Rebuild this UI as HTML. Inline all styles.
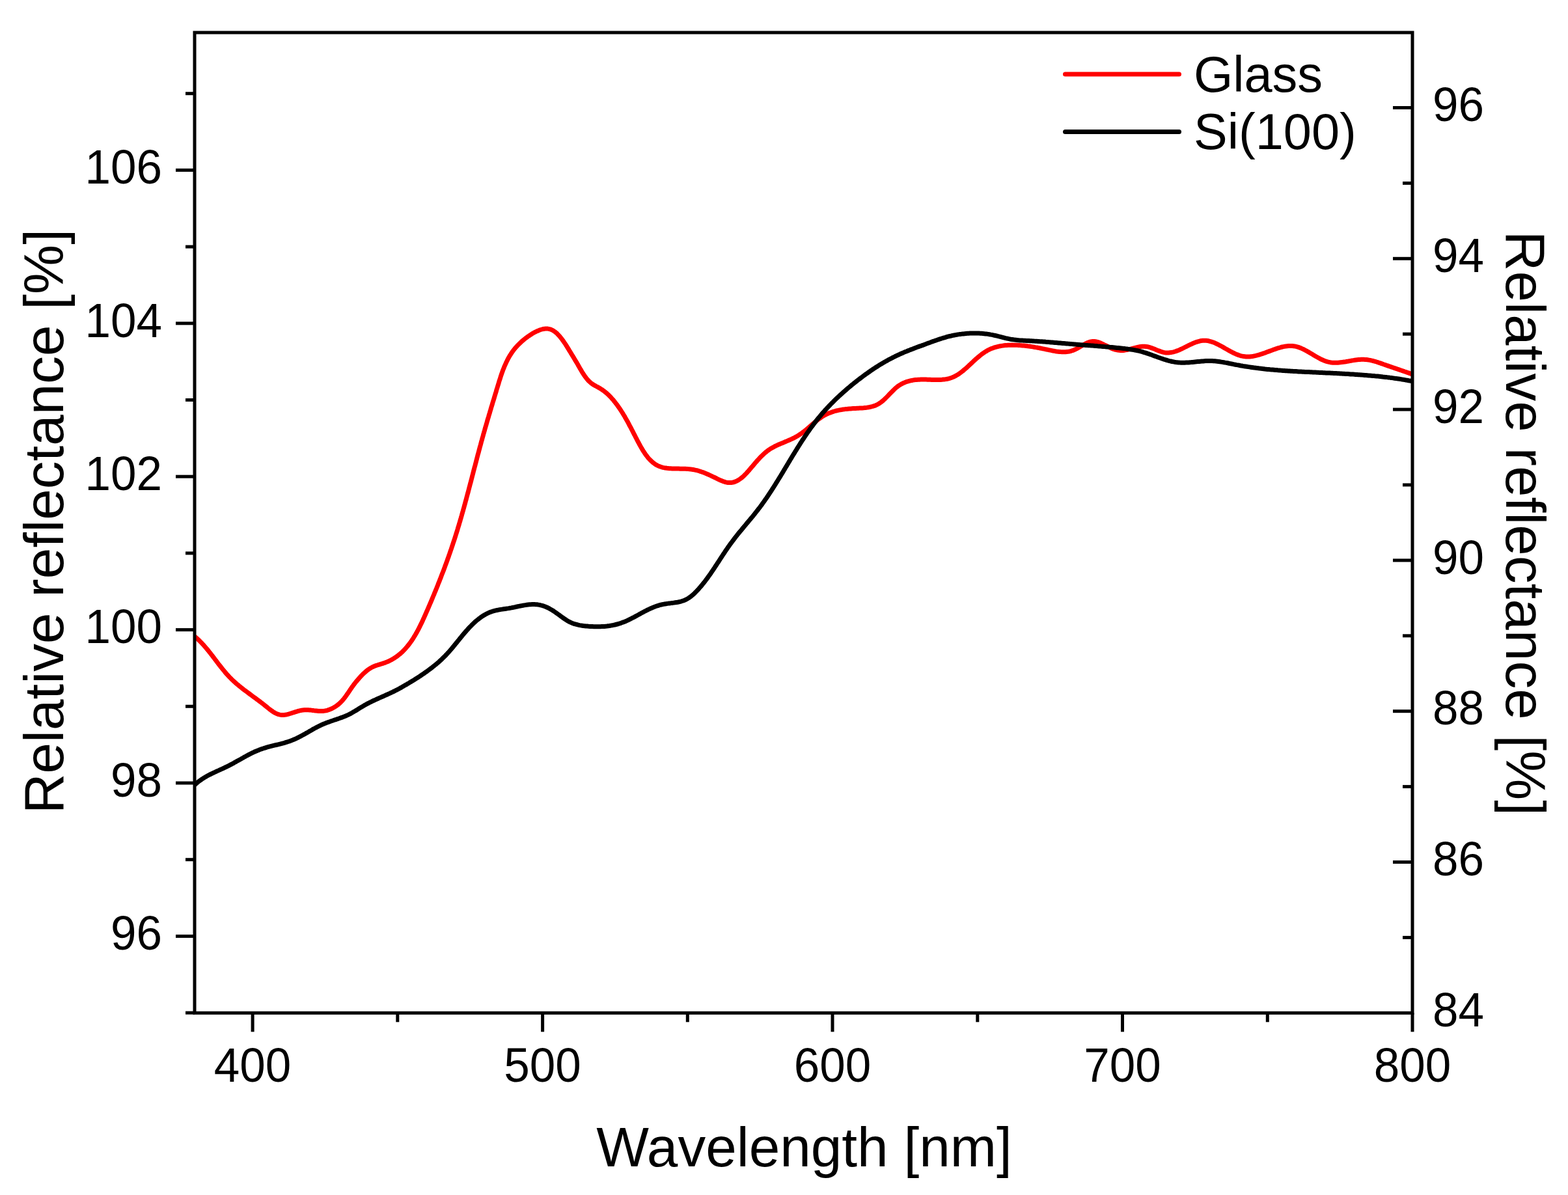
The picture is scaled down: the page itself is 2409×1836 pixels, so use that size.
<!DOCTYPE html>
<html><head><meta charset="utf-8"><title>Relative reflectance</title>
<style>
html,body{margin:0;padding:0;background:#fff;}
svg{display:block;}
text{font-family:"Liberation Sans",Arial,sans-serif;fill:#000;}
</style></head><body>
<svg width="2409" height="1836" viewBox="0 0 2409 1836">
<rect width="2409" height="1836" fill="#fff"/>
<defs><clipPath id="pc"><rect x="299.0" y="50.0" width="1871.0" height="1506.3"/></clipPath></defs>
<g clip-path="url(#pc)" fill="none" stroke-linejoin="round" stroke-linecap="round" stroke-width="7.0">
<path stroke="#ff0000" d="M299.1,977.8L300.6,979.1L302.1,980.4L303.6,981.7L305.0,983.1L306.4,984.4L307.8,985.9L309.2,987.3L310.6,988.7L311.9,990.2L313.3,991.7L314.6,993.2L315.9,994.7L317.2,996.2L318.5,997.8L319.7,999.3L321.0,1000.9L322.2,1002.5L323.5,1004.0L324.7,1005.6L326.0,1007.2L327.2,1008.8L328.4,1010.4L329.6,1012.0L330.8,1013.6L332.1,1015.2L333.3,1016.9L334.5,1018.5L335.7,1020.1L337.0,1021.7L338.2,1023.2L339.4,1024.8L340.7,1026.4L341.9,1028.0L343.2,1029.5L344.5,1031.0L345.7,1032.6L347.0,1034.1L348.3,1035.6L349.7,1037.1L351.0,1038.5L352.3,1040.0L353.7,1041.4L355.1,1042.8L356.5,1044.2L357.9,1045.5L359.4,1046.9L360.8,1048.2L362.3,1049.5L363.8,1050.8L365.3,1052.1L366.8,1053.3L368.3,1054.6L369.8,1055.8L371.4,1057.0L372.9,1058.2L374.5,1059.5L376.1,1060.7L377.7,1061.8L379.3,1063.0L380.9,1064.2L382.5,1065.4L384.1,1066.6L385.7,1067.8L387.3,1069.0L388.9,1070.2L390.5,1071.4L392.2,1072.5L393.8,1073.7L395.4,1075.0L397.1,1076.2L398.7,1077.4L400.3,1078.6L401.9,1079.9L403.6,1081.1L405.2,1082.4L406.8,1083.7L408.4,1085.0L410.0,1086.3L411.6,1087.6L413.2,1088.9L414.8,1090.2L416.5,1091.4L418.1,1092.5L419.7,1093.6L421.4,1094.7L423.1,1095.6L424.8,1096.4L426.5,1097.1L428.2,1097.7L430.0,1098.1L431.8,1098.4L433.6,1098.5L435.5,1098.5L437.4,1098.3L439.4,1098.0L441.3,1097.6L443.3,1097.1L445.3,1096.5L447.3,1095.9L449.3,1095.2L451.4,1094.6L453.4,1093.9L455.5,1093.3L457.5,1092.7L459.6,1092.1L461.6,1091.6L463.7,1091.2L465.7,1090.9L467.7,1090.7L469.7,1090.7L471.7,1090.7L473.7,1090.8L475.7,1090.9L477.7,1091.1L479.7,1091.4L481.6,1091.6L483.6,1091.9L485.5,1092.1L487.5,1092.3L489.4,1092.5L491.3,1092.6L493.3,1092.6L495.2,1092.6L497.1,1092.4L499.0,1092.1L500.9,1091.8L502.8,1091.3L504.7,1090.7L506.5,1090.1L508.4,1089.3L510.2,1088.5L512.0,1087.5L513.7,1086.5L515.4,1085.5L517.1,1084.3L518.7,1083.1L520.3,1081.9L521.8,1080.5L523.3,1079.2L524.7,1077.7L526.0,1076.3L527.3,1074.7L528.6,1073.2L529.8,1071.6L531.0,1070.0L532.2,1068.4L533.3,1066.7L534.5,1065.1L535.6,1063.4L536.7,1061.8L537.8,1060.1L538.9,1058.5L540.0,1056.8L541.2,1055.2L542.4,1053.6L543.5,1052.0L544.7,1050.5L545.9,1048.9L547.1,1047.4L548.4,1045.9L549.6,1044.5L550.8,1043.1L552.0,1041.7L553.2,1040.4L554.4,1039.0L555.6,1037.8L556.8,1036.5L558.0,1035.3L559.3,1034.2L560.5,1033.1L561.7,1032.0L562.9,1031.0L564.2,1029.9L565.5,1029.0L566.8,1028.0L568.1,1027.2L569.6,1026.3L571.0,1025.5L572.5,1024.7L574.1,1024.0L575.8,1023.3L577.6,1022.6L579.5,1022.0L581.4,1021.4L583.3,1020.8L585.3,1020.2L587.3,1019.6L589.3,1018.9L591.3,1018.3L593.2,1017.5L595.1,1016.8L596.9,1016.0L598.7,1015.1L600.5,1014.2L602.2,1013.3L603.9,1012.3L605.6,1011.3L607.2,1010.2L608.8,1009.1L610.4,1008.0L611.9,1006.8L613.4,1005.6L614.9,1004.4L616.3,1003.1L617.8,1001.8L619.1,1000.5L620.5,999.1L621.8,997.7L623.1,996.3L624.4,994.8L625.7,993.3L626.9,991.8L628.1,990.3L629.3,988.7L630.4,987.2L631.6,985.5L632.7,983.9L633.8,982.3L634.9,980.6L635.9,978.9L637.0,977.2L638.0,975.5L639.0,973.8L640.0,972.0L641.0,970.3L641.9,968.5L642.9,966.7L643.8,964.9L644.7,963.1L645.6,961.2L646.5,959.4L647.4,957.6L648.3,955.7L649.2,953.9L650.0,952.0L650.9,950.1L651.7,948.3L652.5,946.4L653.4,944.5L654.2,942.7L655.0,940.8L655.8,938.9L656.7,937.0L657.5,935.2L658.3,933.3L659.1,931.4L659.9,929.6L660.7,927.7L661.5,925.8L662.3,924.0L663.1,922.1L663.9,920.2L664.6,918.4L665.4,916.5L666.2,914.7L667.0,912.8L667.7,910.9L668.5,909.1L669.3,907.2L670.0,905.4L670.8,903.5L671.5,901.7L672.3,899.8L673.0,897.9L673.7,896.1L674.5,894.2L675.2,892.4L675.9,890.5L676.7,888.7L677.4,886.8L678.1,884.9L678.8,883.1L679.5,881.2L680.3,879.4L681.0,877.5L681.7,875.7L682.4,873.8L683.1,871.9L683.7,870.1L684.4,868.2L685.1,866.4L685.8,864.5L686.5,862.6L687.2,860.8L687.8,858.9L688.5,857.0L689.2,855.2L689.8,853.3L690.5,851.4L691.1,849.6L691.8,847.7L692.4,845.8L693.1,843.9L693.7,842.1L694.3,840.2L695.0,838.3L695.6,836.4L696.2,834.5L696.8,832.7L697.5,830.8L698.1,828.9L698.7,827.0L699.3,825.1L699.9,823.2L700.5,821.3L701.1,819.4L701.7,817.5L702.3,815.6L702.9,813.7L703.4,811.8L704.0,809.9L704.6,808.0L705.2,806.1L705.7,804.2L706.3,802.3L706.9,800.4L707.4,798.4L708.0,796.5L708.5,794.6L709.1,792.7L709.6,790.8L710.2,788.8L710.7,786.9L711.3,785.0L711.8,783.1L712.4,781.1L712.9,779.2L713.4,777.3L714.0,775.3L714.5,773.4L715.0,771.5L715.5,769.5L716.1,767.6L716.6,765.7L717.1,763.7L717.6,761.8L718.1,759.8L718.7,757.9L719.2,756.0L719.7,754.0L720.2,752.1L720.7,750.1L721.2,748.2L721.7,746.3L722.2,744.3L722.8,742.4L723.3,740.4L723.8,738.5L724.3,736.5L724.8,734.6L725.3,732.7L725.8,730.7L726.3,728.8L726.8,726.8L727.3,724.9L727.8,722.9L728.3,721.0L728.8,719.1L729.3,717.1L729.9,715.2L730.4,713.2L730.9,711.3L731.4,709.3L731.9,707.4L732.4,705.5L732.9,703.5L733.4,701.6L733.9,699.7L734.4,697.7L735.0,695.8L735.5,693.9L736.0,691.9L736.5,690.0L737.0,688.1L737.5,686.1L738.1,684.2L738.6,682.3L739.1,680.3L739.6,678.4L740.2,676.5L740.7,674.6L741.2,672.7L741.8,670.7L742.3,668.8L742.8,666.9L743.4,665.0L743.9,663.1L744.5,661.2L745.0,659.2L745.6,657.3L746.1,655.4L746.7,653.5L747.2,651.6L747.8,649.7L748.3,647.8L748.9,645.9L749.4,644.0L750.0,642.1L750.6,640.2L751.1,638.3L751.7,636.4L752.3,634.5L752.8,632.6L753.4,630.7L754.0,628.8L754.5,626.8L755.1,624.9L755.7,623.0L756.3,621.1L756.8,619.2L757.4,617.3L758.0,615.4L758.6,613.5L759.2,611.6L759.7,609.7L760.3,607.7L760.9,605.8L761.5,603.9L762.1,602.0L762.6,600.1L763.2,598.1L763.8,596.2L764.4,594.3L765.0,592.3L765.6,590.4L766.2,588.5L766.7,586.5L767.3,584.6L768.0,582.7L768.6,580.8L769.2,578.8L769.8,576.9L770.5,575.0L771.1,573.1L771.8,571.2L772.5,569.3L773.2,567.5L774.0,565.6L774.7,563.7L775.5,561.9L776.3,560.1L777.1,558.3L777.9,556.5L778.8,554.7L779.7,552.9L780.6,551.2L781.5,549.4L782.5,547.7L783.5,546.0L784.6,544.4L785.7,542.7L786.8,541.1L787.9,539.5L789.1,537.9L790.3,536.4L791.6,534.8L792.9,533.3L794.2,531.9L795.6,530.4L797.0,529.0L798.4,527.6L799.9,526.2L801.3,524.8L802.9,523.5L804.4,522.2L806.0,520.9L807.6,519.6L809.3,518.4L810.9,517.2L812.6,516.0L814.4,514.8L816.1,513.7L817.9,512.6L819.7,511.5L821.5,510.5L823.4,509.6L825.2,508.7L827.1,507.9L828.9,507.1L830.8,506.5L832.6,506.0L834.5,505.5L836.3,505.2L838.1,505.1L839.9,505.0L841.7,505.1L843.4,505.4L845.1,505.8L846.8,506.4L848.4,507.1L850.1,508.0L851.6,509.1L853.2,510.2L854.7,511.4L856.2,512.8L857.6,514.3L859.0,515.8L860.4,517.4L861.8,519.1L863.1,520.8L864.4,522.6L865.7,524.4L866.9,526.2L868.2,528.0L869.4,529.9L870.5,531.7L871.7,533.6L872.8,535.4L873.9,537.2L874.9,538.9L876.0,540.6L877.0,542.3L878.0,543.9L879.0,545.6L880.0,547.2L881.0,548.8L881.9,550.4L882.9,552.0L883.8,553.6L884.8,555.2L885.8,556.8L886.7,558.4L887.7,560.1L888.6,561.7L889.6,563.4L890.6,565.2L891.6,566.9L892.7,568.7L893.7,570.5L894.8,572.3L895.9,574.0L897.0,575.8L898.2,577.5L899.4,579.2L900.7,580.9L902.0,582.5L903.3,584.0L904.7,585.5L906.2,586.9L907.7,588.2L909.2,589.4L910.9,590.5L912.5,591.6L914.3,592.5L916.0,593.5L917.7,594.4L919.5,595.4L921.2,596.3L922.9,597.4L924.6,598.4L926.2,599.6L927.8,600.7L929.4,602.0L930.9,603.2L932.5,604.5L933.9,605.9L935.4,607.3L936.8,608.7L938.2,610.2L939.6,611.7L940.9,613.2L942.3,614.7L943.5,616.3L944.8,617.9L946.0,619.5L947.3,621.1L948.5,622.7L949.6,624.3L950.8,626.0L951.9,627.6L953.0,629.2L954.1,630.9L955.1,632.5L956.2,634.2L957.2,635.8L958.2,637.5L959.2,639.1L960.2,640.8L961.1,642.5L962.1,644.1L963.0,645.8L964.0,647.5L964.9,649.2L965.8,650.9L966.7,652.6L967.6,654.4L968.6,656.1L969.5,657.8L970.4,659.6L971.3,661.3L972.2,663.1L973.1,664.9L974.0,666.7L975.0,668.5L975.9,670.3L976.8,672.1L977.8,673.9L978.7,675.8L979.7,677.7L980.7,679.5L981.7,681.4L982.7,683.3L983.7,685.1L984.8,687.0L985.9,688.8L986.9,690.7L988.0,692.5L989.2,694.2L990.3,696.0L991.5,697.7L992.7,699.4L994.0,701.0L995.2,702.6L996.5,704.2L997.9,705.6L999.3,707.1L1000.7,708.4L1002.1,709.7L1003.6,710.9L1005.1,712.1L1006.6,713.2L1008.2,714.2L1009.9,715.1L1011.6,715.9L1013.3,716.6L1015.1,717.2L1016.9,717.8L1018.7,718.3L1020.6,718.7L1022.5,719.0L1024.5,719.3L1026.4,719.5L1028.4,719.7L1030.5,719.8L1032.5,719.9L1034.5,720.0L1036.6,720.1L1038.6,720.1L1040.7,720.1L1042.8,720.1L1044.8,720.2L1046.9,720.2L1049.0,720.2L1051.0,720.3L1053.1,720.3L1055.1,720.4L1057.1,720.6L1059.1,720.7L1061.1,720.9L1063.0,721.2L1065.0,721.5L1066.9,721.9L1068.8,722.3L1070.6,722.7L1072.5,723.2L1074.3,723.8L1076.1,724.4L1078.0,725.0L1079.8,725.6L1081.6,726.3L1083.4,727.0L1085.1,727.7L1086.9,728.5L1088.7,729.3L1090.5,730.1L1092.3,730.9L1094.1,731.8L1096.0,732.7L1097.8,733.5L1099.6,734.4L1101.5,735.4L1103.4,736.3L1105.2,737.2L1107.1,738.0L1109.0,738.8L1110.9,739.6L1112.9,740.2L1114.8,740.8L1116.7,741.2L1118.6,741.5L1120.6,741.6L1122.5,741.6L1124.4,741.4L1126.4,741.0L1128.3,740.5L1130.1,739.7L1132.0,738.9L1133.8,738.0L1135.5,736.9L1137.1,735.8L1138.7,734.6L1140.3,733.4L1141.8,732.1L1143.2,730.7L1144.6,729.3L1146.0,727.9L1147.4,726.4L1148.7,724.9L1150.1,723.4L1151.4,721.9L1152.7,720.3L1154.0,718.7L1155.4,717.2L1156.7,715.6L1158.0,714.1L1159.3,712.5L1160.6,710.9L1162.0,709.4L1163.3,707.9L1164.7,706.3L1166.1,704.8L1167.4,703.4L1168.8,701.9L1170.3,700.5L1171.7,699.1L1173.2,697.7L1174.6,696.4L1176.1,695.1L1177.7,693.9L1179.2,692.6L1180.8,691.5L1182.4,690.4L1184.1,689.3L1185.8,688.3L1187.5,687.4L1189.2,686.4L1191.0,685.5L1192.7,684.7L1194.5,683.8L1196.3,683.0L1198.2,682.2L1200.0,681.4L1201.8,680.7L1203.7,679.9L1205.5,679.1L1207.4,678.4L1209.2,677.6L1211.1,676.8L1212.9,676.0L1214.7,675.2L1216.6,674.3L1218.4,673.5L1220.2,672.6L1222.0,671.6L1223.7,670.7L1225.4,669.7L1227.2,668.6L1228.8,667.5L1230.5,666.3L1232.2,665.1L1233.8,663.9L1235.4,662.7L1237.0,661.4L1238.6,660.1L1240.1,658.8L1241.7,657.4L1243.3,656.1L1244.8,654.7L1246.4,653.4L1247.9,652.0L1249.5,650.7L1251.0,649.4L1252.6,648.1L1254.1,646.8L1255.7,645.5L1257.3,644.3L1258.9,643.1L1260.5,642.0L1262.1,640.9L1263.8,639.8L1265.5,638.8L1267.2,637.8L1268.9,636.9L1270.6,636.1L1272.4,635.3L1274.2,634.6L1276.0,633.9L1277.8,633.2L1279.6,632.6L1281.5,632.0L1283.3,631.5L1285.2,631.0L1287.1,630.6L1289.0,630.2L1290.9,629.8L1292.9,629.5L1294.8,629.1L1296.8,628.9L1298.7,628.6L1300.7,628.4L1302.7,628.2L1304.7,628.0L1306.7,627.9L1308.7,627.7L1310.7,627.6L1312.7,627.5L1314.7,627.4L1316.7,627.3L1318.7,627.2L1320.7,627.1L1322.7,627.0L1324.7,626.9L1326.7,626.8L1328.6,626.6L1330.6,626.4L1332.5,626.1L1334.4,625.8L1336.3,625.4L1338.2,625.0L1340.0,624.5L1341.9,624.0L1343.7,623.4L1345.4,622.7L1347.2,621.9L1348.9,621.0L1350.6,620.0L1352.2,618.9L1353.8,617.8L1355.4,616.5L1357.0,615.2L1358.5,613.8L1360.0,612.4L1361.5,610.9L1363.0,609.4L1364.5,607.9L1365.9,606.3L1367.4,604.8L1368.9,603.2L1370.4,601.7L1371.9,600.2L1373.4,598.7L1374.9,597.3L1376.4,595.9L1378.0,594.6L1379.6,593.4L1381.2,592.2L1382.9,591.2L1384.6,590.2L1386.3,589.3L1388.0,588.4L1389.8,587.7L1391.5,587.0L1393.4,586.3L1395.2,585.8L1397.0,585.3L1398.9,584.8L1400.8,584.5L1402.7,584.1L1404.7,583.8L1406.6,583.6L1408.6,583.4L1410.6,583.3L1412.6,583.2L1414.6,583.1L1416.7,583.1L1418.7,583.1L1420.7,583.1L1422.8,583.1L1424.9,583.2L1426.9,583.3L1429.0,583.3L1431.1,583.4L1433.1,583.5L1435.2,583.5L1437.2,583.5L1439.3,583.6L1441.3,583.5L1443.3,583.5L1445.3,583.4L1447.3,583.3L1449.3,583.1L1451.2,582.9L1453.2,582.6L1455.1,582.3L1456.9,581.8L1458.8,581.4L1460.6,580.8L1462.4,580.2L1464.1,579.4L1465.8,578.7L1467.5,577.8L1469.2,576.9L1470.8,575.9L1472.5,574.9L1474.1,573.8L1475.6,572.7L1477.2,571.5L1478.8,570.3L1480.3,569.0L1481.8,567.7L1483.4,566.4L1484.9,565.1L1486.4,563.7L1487.9,562.3L1489.4,560.9L1490.9,559.5L1492.4,558.1L1493.9,556.7L1495.4,555.3L1496.9,553.9L1498.4,552.5L1499.9,551.2L1501.5,549.8L1503.0,548.5L1504.6,547.2L1506.2,545.9L1507.8,544.6L1509.4,543.4L1511.0,542.3L1512.7,541.1L1514.3,540.1L1516.1,539.1L1517.8,538.1L1519.6,537.2L1521.4,536.3L1523.2,535.6L1525.0,534.9L1526.9,534.2L1528.8,533.6L1530.7,533.1L1532.7,532.6L1534.6,532.1L1536.6,531.7L1538.6,531.4L1540.6,531.1L1542.6,530.8L1544.7,530.6L1546.7,530.5L1548.7,530.3L1550.8,530.2L1552.8,530.2L1554.8,530.1L1556.9,530.2L1558.9,530.2L1560.9,530.2L1562.9,530.3L1564.9,530.4L1566.9,530.6L1568.9,530.7L1570.9,530.9L1572.9,531.1L1574.9,531.3L1576.9,531.5L1578.8,531.8L1580.8,532.0L1582.8,532.3L1584.7,532.6L1586.7,532.9L1588.6,533.2L1590.6,533.6L1592.5,533.9L1594.5,534.3L1596.4,534.6L1598.3,535.0L1600.3,535.4L1602.2,535.8L1604.1,536.2L1606.1,536.6L1608.0,537.0L1610.0,537.4L1611.9,537.8L1613.8,538.2L1615.8,538.6L1617.7,539.0L1619.7,539.3L1621.6,539.7L1623.5,540.0L1625.5,540.2L1627.4,540.4L1629.3,540.6L1631.3,540.7L1633.2,540.8L1635.1,540.8L1637.0,540.7L1638.9,540.5L1640.8,540.3L1642.7,540.0L1644.6,539.6L1646.4,539.0L1648.3,538.4L1650.2,537.7L1652.0,536.8L1653.9,535.9L1655.7,534.9L1657.5,533.9L1659.4,532.8L1661.2,531.7L1663.0,530.6L1664.8,529.6L1666.7,528.6L1668.5,527.6L1670.3,526.8L1672.1,526.0L1674.0,525.4L1675.8,524.9L1677.7,524.6L1679.6,524.4L1681.4,524.5L1683.3,524.7L1685.2,525.1L1687.1,525.6L1689.0,526.3L1690.9,527.1L1692.9,527.9L1694.8,528.8L1696.7,529.8L1698.6,530.7L1700.5,531.7L1702.5,532.7L1704.4,533.7L1706.3,534.6L1708.2,535.4L1710.1,536.1L1712.0,536.8L1713.9,537.3L1715.8,537.7L1717.7,538.0L1719.6,538.3L1721.5,538.4L1723.4,538.4L1725.3,538.4L1727.2,538.2L1729.1,537.9L1731.0,537.6L1733.0,537.2L1734.9,536.7L1736.9,536.2L1738.9,535.7L1740.8,535.1L1742.8,534.6L1744.8,534.1L1746.8,533.6L1748.8,533.1L1750.8,532.8L1752.8,532.5L1754.8,532.3L1756.7,532.2L1758.7,532.2L1760.7,532.4L1762.7,532.7L1764.6,533.2L1766.6,533.7L1768.5,534.4L1770.5,535.1L1772.4,535.8L1774.4,536.6L1776.3,537.4L1778.2,538.2L1780.1,538.9L1782.1,539.6L1784.0,540.3L1785.9,540.9L1787.8,541.4L1789.7,541.7L1791.6,541.9L1793.5,542.0L1795.4,542.0L1797.3,541.8L1799.2,541.6L1801.1,541.2L1803.0,540.8L1804.8,540.2L1806.7,539.6L1808.6,538.9L1810.5,538.2L1812.4,537.4L1814.2,536.5L1816.1,535.7L1818.0,534.8L1819.8,533.8L1821.7,532.9L1823.6,532.0L1825.4,531.0L1827.3,530.1L1829.1,529.2L1831.0,528.4L1832.9,527.5L1834.7,526.8L1836.6,526.0L1838.4,525.4L1840.3,524.8L1842.1,524.3L1844.0,523.8L1845.8,523.5L1847.7,523.3L1849.5,523.2L1851.3,523.2L1853.2,523.3L1855.0,523.5L1856.9,523.8L1858.7,524.3L1860.5,524.8L1862.4,525.4L1864.2,526.1L1866.1,526.8L1867.9,527.6L1869.7,528.5L1871.6,529.4L1873.4,530.3L1875.3,531.3L1877.1,532.3L1879.0,533.4L1880.8,534.4L1882.6,535.5L1884.5,536.5L1886.3,537.6L1888.2,538.6L1890.0,539.6L1891.9,540.6L1893.8,541.6L1895.6,542.5L1897.5,543.4L1899.3,544.2L1901.2,544.9L1903.1,545.6L1904.9,546.2L1906.8,546.8L1908.7,547.2L1910.6,547.6L1912.5,547.8L1914.3,548.0L1916.2,548.0L1918.1,548.0L1920.0,547.9L1921.9,547.7L1923.8,547.5L1925.7,547.2L1927.6,546.8L1929.5,546.4L1931.5,545.9L1933.4,545.4L1935.3,544.8L1937.2,544.2L1939.1,543.6L1941.0,542.9L1943.0,542.3L1944.9,541.6L1946.8,540.8L1948.8,540.1L1950.7,539.4L1952.6,538.7L1954.5,538.0L1956.5,537.2L1958.4,536.6L1960.4,535.9L1962.3,535.2L1964.2,534.6L1966.2,534.1L1968.1,533.5L1970.0,533.0L1972.0,532.6L1973.9,532.2L1975.8,531.9L1977.7,531.7L1979.7,531.5L1981.6,531.4L1983.5,531.4L1985.4,531.5L1987.3,531.7L1989.2,531.9L1991.1,532.3L1992.9,532.8L1994.8,533.4L1996.7,534.1L1998.5,534.8L2000.3,535.6L2002.2,536.4L2004.0,537.4L2005.8,538.3L2007.7,539.3L2009.5,540.4L2011.3,541.4L2013.1,542.5L2014.8,543.5L2016.6,544.6L2018.4,545.7L2020.2,546.8L2021.9,547.8L2023.7,548.8L2025.5,549.8L2027.2,550.7L2029.0,551.7L2030.8,552.5L2032.6,553.3L2034.4,554.1L2036.2,554.7L2038.1,555.4L2039.9,555.9L2041.8,556.3L2043.7,556.7L2045.6,557.0L2047.6,557.2L2049.5,557.3L2051.5,557.3L2053.5,557.2L2055.5,557.2L2057.5,557.0L2059.5,556.8L2061.5,556.6L2063.5,556.3L2065.6,556.0L2067.6,555.7L2069.6,555.3L2071.6,555.0L2073.6,554.6L2075.6,554.3L2077.6,553.9L2079.5,553.6L2081.5,553.3L2083.5,553.0L2085.4,552.8L2087.4,552.6L2089.3,552.4L2091.3,552.3L2093.3,552.3L2095.2,552.3L2097.2,552.4L2099.1,552.5L2101.1,552.8L2103.0,553.1L2105.0,553.4L2106.9,553.9L2108.9,554.3L2110.9,554.9L2112.8,555.4L2114.8,556.0L2116.7,556.6L2118.6,557.3L2120.6,557.9L2122.5,558.6L2124.4,559.3L2126.3,560.0L2128.2,560.6L2130.1,561.3L2132.0,561.9L2133.9,562.6L2135.8,563.2L2137.7,563.9L2139.5,564.5L2141.4,565.2L2143.3,565.8L2145.2,566.4L2147.0,567.1L2148.9,567.7L2150.8,568.4L2152.6,569.0L2154.5,569.7L2156.4,570.3L2158.3,571.0L2160.2,571.6L2162.1,572.3L2164.0,572.9L2165.9,573.6L2167.8,574.3L2169.7,574.9L2170.0,575.0"/>
<path stroke="#000" d="M300.1,1205.0L301.7,1203.6L303.2,1202.3L304.8,1201.0L306.4,1199.8L308.1,1198.6L309.7,1197.5L311.4,1196.4L313.1,1195.3L314.8,1194.3L316.5,1193.3L318.2,1192.3L320.0,1191.3L321.7,1190.4L323.5,1189.5L325.3,1188.6L327.1,1187.8L328.9,1186.9L330.7,1186.1L332.5,1185.2L334.3,1184.4L336.1,1183.6L338.0,1182.7L339.8,1181.9L341.6,1181.1L343.4,1180.3L345.2,1179.4L347.0,1178.5L348.8,1177.7L350.6,1176.8L352.4,1175.9L354.2,1174.9L356.0,1174.0L357.7,1173.1L359.5,1172.1L361.2,1171.1L363.0,1170.1L364.7,1169.1L366.5,1168.2L368.2,1167.2L370.0,1166.2L371.7,1165.2L373.5,1164.2L375.2,1163.2L377.0,1162.3L378.8,1161.3L380.5,1160.4L382.3,1159.4L384.1,1158.5L385.8,1157.6L387.6,1156.7L389.4,1155.9L391.2,1155.0L393.0,1154.2L394.9,1153.4L396.7,1152.7L398.6,1151.9L400.4,1151.3L402.3,1150.6L404.2,1150.0L406.1,1149.4L408.0,1148.8L409.9,1148.2L411.8,1147.7L413.7,1147.2L415.7,1146.7L417.6,1146.2L419.6,1145.7L421.5,1145.2L423.4,1144.7L425.4,1144.3L427.3,1143.8L429.3,1143.3L431.2,1142.8L433.1,1142.3L435.1,1141.8L437.0,1141.3L438.9,1140.7L440.8,1140.1L442.7,1139.5L444.6,1138.9L446.4,1138.2L448.3,1137.5L450.1,1136.8L451.9,1136.0L453.8,1135.2L455.6,1134.4L457.3,1133.5L459.1,1132.6L460.9,1131.7L462.6,1130.8L464.4,1129.8L466.1,1128.9L467.9,1127.9L469.6,1126.9L471.4,1125.9L473.1,1124.9L474.8,1123.9L476.6,1122.9L478.3,1121.9L480.0,1120.9L481.8,1119.9L483.5,1119.0L485.3,1118.0L487.1,1117.1L488.9,1116.2L490.6,1115.3L492.4,1114.4L494.3,1113.6L496.1,1112.8L497.9,1112.0L499.8,1111.3L501.6,1110.5L503.5,1109.8L505.4,1109.2L507.3,1108.5L509.2,1107.8L511.0,1107.2L512.9,1106.5L514.8,1105.9L516.7,1105.3L518.6,1104.6L520.5,1104.0L522.4,1103.3L524.3,1102.6L526.1,1101.9L528.0,1101.2L529.8,1100.5L531.7,1099.7L533.5,1098.9L535.3,1098.1L537.1,1097.2L538.8,1096.3L540.6,1095.3L542.3,1094.3L544.0,1093.3L545.8,1092.3L547.5,1091.2L549.1,1090.2L550.8,1089.1L552.5,1088.0L554.2,1087.0L556.0,1085.9L557.7,1084.9L559.4,1083.9L561.2,1082.9L562.9,1081.9L564.7,1081.0L566.5,1080.1L568.3,1079.2L570.1,1078.3L571.9,1077.4L573.7,1076.5L575.5,1075.7L577.3,1074.9L579.2,1074.0L581.0,1073.2L582.8,1072.4L584.6,1071.6L586.5,1070.8L588.3,1070.0L590.1,1069.2L592.0,1068.3L593.8,1067.5L595.6,1066.7L597.4,1065.9L599.2,1065.1L601.0,1064.2L602.8,1063.4L604.6,1062.5L606.4,1061.6L608.2,1060.7L609.9,1059.8L611.7,1058.9L613.4,1058.0L615.1,1057.0L616.9,1056.1L618.6,1055.1L620.3,1054.1L622.0,1053.1L623.7,1052.1L625.5,1051.1L627.2,1050.1L628.8,1049.1L630.5,1048.1L632.2,1047.0L633.9,1046.0L635.6,1045.0L637.3,1043.9L639.0,1042.8L640.7,1041.8L642.3,1040.7L644.0,1039.6L645.7,1038.5L647.3,1037.4L649.0,1036.2L650.7,1035.1L652.3,1034.0L653.9,1032.8L655.6,1031.7L657.2,1030.5L658.8,1029.3L660.4,1028.1L662.0,1026.9L663.6,1025.7L665.2,1024.4L666.7,1023.2L668.3,1021.9L669.8,1020.7L671.4,1019.4L672.9,1018.1L674.4,1016.8L675.9,1015.4L677.3,1014.1L678.8,1012.7L680.2,1011.3L681.7,1009.9L683.1,1008.5L684.5,1007.1L685.8,1005.6L687.2,1004.2L688.6,1002.7L689.9,1001.2L691.2,999.7L692.5,998.2L693.8,996.7L695.1,995.1L696.4,993.6L697.7,992.0L698.9,990.5L700.2,988.9L701.5,987.4L702.7,985.8L704.0,984.2L705.3,982.7L706.5,981.1L707.8,979.6L709.1,978.0L710.3,976.5L711.6,974.9L712.9,973.4L714.2,971.9L715.5,970.4L716.8,968.9L718.2,967.4L719.5,965.9L720.8,964.4L722.2,963.0L723.6,961.6L725.0,960.1L726.4,958.8L727.9,957.4L729.3,956.0L730.8,954.7L732.3,953.4L733.9,952.1L735.4,950.9L737.0,949.7L738.6,948.5L740.2,947.4L741.9,946.3L743.6,945.2L745.3,944.3L747.0,943.3L748.8,942.4L750.5,941.6L752.3,940.8L754.2,940.1L756.0,939.5L757.9,938.9L759.8,938.4L761.7,937.9L763.6,937.5L765.6,937.1L767.5,936.7L769.5,936.4L771.5,936.1L773.5,935.8L775.5,935.5L777.5,935.2L779.5,934.9L781.5,934.6L783.5,934.2L785.5,933.9L787.5,933.5L789.5,933.1L791.5,932.7L793.5,932.2L795.5,931.8L797.5,931.4L799.5,931.0L801.5,930.6L803.5,930.2L805.5,929.9L807.4,929.6L809.4,929.3L811.4,929.0L813.4,928.8L815.3,928.7L817.3,928.6L819.3,928.5L821.2,928.6L823.1,928.7L825.1,928.8L827.0,929.1L828.9,929.4L830.8,929.9L832.7,930.3L834.5,930.9L836.4,931.5L838.2,932.2L840.0,933.0L841.8,933.8L843.6,934.7L845.3,935.7L847.1,936.7L848.8,937.7L850.5,938.8L852.2,940.0L853.8,941.1L855.5,942.3L857.1,943.5L858.8,944.7L860.5,945.9L862.1,947.2L863.8,948.4L865.4,949.5L867.1,950.7L868.8,951.8L870.5,952.9L872.2,953.9L873.9,954.9L875.6,955.8L877.4,956.6L879.2,957.4L881.0,958.1L882.8,958.7L884.7,959.2L886.6,959.7L888.5,960.2L890.4,960.6L892.3,960.9L894.3,961.2L896.2,961.5L898.2,961.7L900.2,961.9L902.2,962.1L904.2,962.3L906.2,962.4L908.2,962.5L910.2,962.6L912.2,962.7L914.3,962.8L916.3,962.8L918.3,962.8L920.3,962.8L922.4,962.7L924.4,962.6L926.4,962.5L928.5,962.4L930.5,962.2L932.5,962.0L934.5,961.7L936.5,961.5L938.5,961.1L940.5,960.8L942.4,960.4L944.4,960.0L946.3,959.5L948.3,959.0L950.2,958.5L952.1,957.9L954.0,957.3L955.8,956.6L957.7,955.9L959.5,955.2L961.4,954.4L963.2,953.6L965.0,952.8L966.8,951.9L968.6,951.0L970.3,950.1L972.1,949.2L973.9,948.3L975.6,947.4L977.4,946.4L979.1,945.5L980.9,944.5L982.6,943.5L984.4,942.6L986.1,941.6L987.9,940.7L989.6,939.7L991.4,938.8L993.2,937.9L995.0,937.0L996.7,936.2L998.5,935.3L1000.4,934.5L1002.2,933.7L1004.0,932.9L1005.8,932.2L1007.7,931.5L1009.6,930.9L1011.5,930.3L1013.4,929.7L1015.3,929.2L1017.3,928.8L1019.2,928.4L1021.2,928.0L1023.2,927.7L1025.2,927.4L1027.2,927.1L1029.3,926.9L1031.3,926.6L1033.3,926.4L1035.3,926.1L1037.3,925.8L1039.3,925.5L1041.2,925.2L1043.2,924.8L1045.1,924.3L1047.0,923.8L1048.8,923.2L1050.7,922.6L1052.4,921.9L1054.2,921.0L1055.9,920.1L1057.5,919.1L1059.2,918.0L1060.7,916.9L1062.3,915.7L1063.8,914.4L1065.3,913.1L1066.8,911.7L1068.2,910.3L1069.6,908.9L1071.0,907.4L1072.4,906.0L1073.7,904.5L1075.0,902.9L1076.4,901.4L1077.7,899.9L1078.9,898.3L1080.2,896.8L1081.4,895.2L1082.7,893.6L1083.9,892.0L1085.1,890.4L1086.3,888.8L1087.5,887.2L1088.6,885.6L1089.8,883.9L1091.0,882.3L1092.1,880.7L1093.2,879.0L1094.4,877.3L1095.5,875.7L1096.6,874.0L1097.7,872.4L1098.8,870.7L1099.9,869.0L1101.0,867.3L1102.1,865.6L1103.2,864.0L1104.3,862.3L1105.4,860.6L1106.5,858.9L1107.6,857.2L1108.7,855.6L1109.8,853.9L1110.9,852.2L1112.0,850.5L1113.1,848.9L1114.2,847.2L1115.3,845.5L1116.4,843.9L1117.6,842.2L1118.7,840.6L1119.9,838.9L1121.0,837.3L1122.2,835.7L1123.4,834.1L1124.6,832.5L1125.8,830.9L1127.0,829.3L1128.2,827.7L1129.4,826.1L1130.6,824.5L1131.9,823.0L1133.1,821.4L1134.4,819.8L1135.6,818.3L1136.9,816.7L1138.2,815.2L1139.5,813.7L1140.7,812.1L1142.0,810.6L1143.3,809.0L1144.6,807.5L1145.9,806.0L1147.1,804.4L1148.4,802.9L1149.7,801.4L1151.0,799.8L1152.3,798.3L1153.5,796.8L1154.8,795.2L1156.1,793.7L1157.4,792.1L1158.6,790.6L1159.9,789.0L1161.1,787.4L1162.3,785.9L1163.6,784.3L1164.8,782.7L1166.0,781.1L1167.2,779.6L1168.4,778.0L1169.6,776.4L1170.8,774.7L1171.9,773.1L1173.1,771.5L1174.3,769.9L1175.4,768.2L1176.5,766.6L1177.7,765.0L1178.8,763.3L1179.9,761.7L1181.0,760.0L1182.1,758.3L1183.2,756.7L1184.3,755.0L1185.4,753.3L1186.5,751.6L1187.6,750.0L1188.6,748.3L1189.7,746.6L1190.8,744.9L1191.8,743.2L1192.9,741.5L1193.9,739.8L1195.0,738.1L1196.0,736.4L1197.1,734.7L1198.1,733.0L1199.2,731.3L1200.2,729.6L1201.2,727.9L1202.3,726.1L1203.3,724.4L1204.3,722.7L1205.4,721.0L1206.4,719.3L1207.4,717.6L1208.5,715.8L1209.5,714.1L1210.5,712.4L1211.5,710.7L1212.6,709.0L1213.6,707.3L1214.6,705.6L1215.7,703.8L1216.7,702.1L1217.7,700.4L1218.8,698.7L1219.8,697.0L1220.9,695.3L1221.9,693.6L1223.0,691.9L1224.0,690.2L1225.1,688.5L1226.1,686.8L1227.2,685.1L1228.3,683.4L1229.3,681.7L1230.4,680.1L1231.5,678.4L1232.6,676.7L1233.7,675.0L1234.8,673.4L1235.9,671.7L1237.0,670.1L1238.1,668.4L1239.2,666.8L1240.3,665.1L1241.5,663.5L1242.6,661.9L1243.8,660.2L1244.9,658.6L1246.1,657.0L1247.3,655.4L1248.5,653.8L1249.7,652.2L1250.9,650.6L1252.1,649.0L1253.3,647.5L1254.5,645.9L1255.8,644.3L1257.0,642.8L1258.3,641.2L1259.6,639.7L1260.8,638.2L1262.1,636.6L1263.4,635.1L1264.7,633.6L1266.1,632.1L1267.4,630.6L1268.7,629.1L1270.1,627.7L1271.5,626.2L1272.8,624.7L1274.2,623.3L1275.6,621.8L1277.0,620.4L1278.4,619.0L1279.8,617.6L1281.2,616.1L1282.6,614.7L1284.1,613.3L1285.5,611.9L1287.0,610.6L1288.4,609.2L1289.9,607.8L1291.4,606.5L1292.9,605.1L1294.4,603.8L1295.9,602.4L1297.4,601.1L1298.9,599.8L1300.4,598.5L1301.9,597.2L1303.4,595.9L1305.0,594.6L1306.5,593.3L1308.1,592.0L1309.6,590.7L1311.2,589.5L1312.7,588.2L1314.3,587.0L1315.9,585.7L1317.4,584.5L1319.0,583.3L1320.6,582.1L1322.2,580.9L1323.8,579.7L1325.4,578.5L1327.0,577.3L1328.6,576.1L1330.2,574.9L1331.8,573.8L1333.5,572.6L1335.1,571.5L1336.7,570.4L1338.4,569.2L1340.0,568.1L1341.6,567.0L1343.3,565.9L1345.0,564.8L1346.6,563.8L1348.3,562.7L1350.0,561.6L1351.7,560.6L1353.4,559.6L1355.1,558.5L1356.8,557.5L1358.5,556.5L1360.2,555.5L1361.9,554.6L1363.7,553.6L1365.4,552.6L1367.2,551.7L1368.9,550.8L1370.7,549.9L1372.5,548.9L1374.3,548.1L1376.0,547.2L1377.8,546.3L1379.7,545.5L1381.5,544.6L1383.3,543.8L1385.1,543.0L1387.0,542.2L1388.8,541.4L1390.7,540.6L1392.5,539.9L1394.4,539.1L1396.3,538.4L1398.1,537.6L1400.0,536.9L1401.9,536.2L1403.8,535.4L1405.7,534.7L1407.5,534.0L1409.4,533.3L1411.3,532.6L1413.2,531.9L1415.1,531.3L1417.0,530.6L1418.8,529.9L1420.7,529.2L1422.6,528.5L1424.5,527.8L1426.3,527.1L1428.2,526.5L1430.1,525.8L1431.9,525.1L1433.8,524.4L1435.6,523.8L1437.5,523.1L1439.3,522.5L1441.2,521.8L1443.1,521.2L1444.9,520.6L1446.8,520.0L1448.7,519.4L1450.6,518.8L1452.5,518.3L1454.4,517.7L1456.3,517.2L1458.2,516.7L1460.2,516.3L1462.1,515.8L1464.1,515.4L1466.1,515.0L1468.0,514.6L1470.0,514.3L1472.0,513.9L1474.0,513.6L1476.0,513.4L1478.0,513.1L1480.0,512.9L1482.0,512.7L1484.0,512.5L1486.0,512.3L1488.0,512.2L1490.1,512.1L1492.1,512.0L1494.1,511.9L1496.1,511.9L1498.1,511.9L1500.2,511.9L1502.2,512.0L1504.2,512.1L1506.2,512.2L1508.2,512.3L1510.2,512.5L1512.2,512.7L1514.2,512.9L1516.2,513.1L1518.2,513.4L1520.1,513.7L1522.1,514.1L1524.1,514.4L1526.0,514.8L1527.9,515.3L1529.9,515.7L1531.8,516.2L1533.7,516.7L1535.6,517.1L1537.6,517.6L1539.5,518.1L1541.4,518.6L1543.3,519.1L1545.2,519.6L1547.2,520.0L1549.1,520.4L1551.0,520.8L1553.0,521.2L1554.9,521.5L1556.9,521.8L1558.9,522.1L1560.8,522.3L1562.8,522.5L1564.8,522.7L1566.8,522.9L1568.8,523.0L1570.8,523.1L1572.8,523.2L1574.8,523.3L1576.8,523.4L1578.8,523.5L1580.8,523.6L1582.8,523.7L1584.8,523.8L1586.8,523.9L1588.8,524.1L1590.8,524.2L1592.8,524.3L1594.8,524.4L1596.8,524.6L1598.8,524.7L1600.8,524.8L1602.8,525.0L1604.8,525.1L1606.8,525.3L1608.8,525.4L1610.8,525.6L1612.8,525.7L1614.7,525.9L1616.7,526.0L1618.7,526.2L1620.7,526.4L1622.7,526.5L1624.7,526.7L1626.7,526.9L1628.6,527.0L1630.6,527.2L1632.6,527.4L1634.6,527.5L1636.6,527.7L1638.6,527.9L1640.6,528.1L1642.6,528.2L1644.5,528.4L1646.5,528.6L1648.5,528.7L1650.5,528.9L1652.5,529.1L1654.5,529.2L1656.5,529.4L1658.5,529.6L1660.5,529.7L1662.5,529.9L1664.5,530.1L1666.5,530.2L1668.5,530.4L1670.5,530.5L1672.5,530.7L1674.5,530.8L1676.5,531.0L1678.5,531.1L1680.5,531.3L1682.5,531.5L1684.5,531.6L1686.5,531.8L1688.5,531.9L1690.5,532.1L1692.5,532.2L1694.5,532.4L1696.5,532.6L1698.4,532.7L1700.4,532.9L1702.4,533.1L1704.4,533.3L1706.4,533.4L1708.4,533.6L1710.4,533.8L1712.4,534.0L1714.4,534.2L1716.3,534.4L1718.3,534.6L1720.3,534.8L1722.3,535.0L1724.3,535.2L1726.2,535.4L1728.2,535.6L1730.2,535.9L1732.1,536.1L1734.1,536.4L1736.0,536.7L1738.0,537.0L1739.9,537.3L1741.9,537.6L1743.8,538.0L1745.7,538.4L1747.7,538.8L1749.6,539.2L1751.5,539.7L1753.4,540.2L1755.3,540.7L1757.2,541.3L1759.1,541.8L1761.0,542.4L1762.9,543.1L1764.8,543.7L1766.7,544.4L1768.6,545.0L1770.5,545.7L1772.3,546.4L1774.2,547.1L1776.1,547.8L1778.0,548.5L1779.9,549.2L1781.7,549.8L1783.6,550.5L1785.5,551.1L1787.4,551.8L1789.3,552.4L1791.2,553.0L1793.1,553.5L1795.0,554.1L1796.9,554.6L1798.8,555.0L1800.7,555.5L1802.6,555.8L1804.5,556.2L1806.5,556.5L1808.4,556.7L1810.4,556.9L1812.3,557.1L1814.3,557.2L1816.2,557.2L1818.2,557.2L1820.2,557.2L1822.2,557.1L1824.2,557.0L1826.2,556.9L1828.2,556.7L1830.2,556.6L1832.2,556.4L1834.2,556.2L1836.2,556.0L1838.2,555.8L1840.3,555.6L1842.3,555.4L1844.3,555.2L1846.3,555.0L1848.3,554.9L1850.3,554.7L1852.4,554.6L1854.4,554.6L1856.4,554.5L1858.4,554.5L1860.4,554.5L1862.4,554.6L1864.4,554.7L1866.4,554.8L1868.3,555.0L1870.3,555.2L1872.3,555.5L1874.3,555.8L1876.3,556.1L1878.2,556.4L1880.2,556.7L1882.2,557.1L1884.1,557.4L1886.1,557.8L1888.1,558.2L1890.0,558.6L1892.0,559.0L1894.0,559.4L1895.9,559.8L1897.9,560.2L1899.9,560.6L1901.8,560.9L1903.8,561.3L1905.8,561.7L1907.7,562.0L1909.7,562.4L1911.7,562.7L1913.6,563.0L1915.6,563.3L1917.6,563.6L1919.6,563.9L1921.6,564.2L1923.5,564.5L1925.5,564.8L1927.5,565.1L1929.5,565.3L1931.5,565.6L1933.4,565.8L1935.4,566.1L1937.4,566.3L1939.4,566.5L1941.4,566.7L1943.4,567.0L1945.3,567.2L1947.3,567.4L1949.3,567.6L1951.3,567.8L1953.3,567.9L1955.3,568.1L1957.3,568.3L1959.3,568.5L1961.3,568.6L1963.2,568.8L1965.2,568.9L1967.2,569.1L1969.2,569.2L1971.2,569.4L1973.2,569.5L1975.2,569.7L1977.2,569.8L1979.2,569.9L1981.2,570.0L1983.2,570.2L1985.2,570.3L1987.2,570.4L1989.2,570.5L1991.2,570.6L1993.2,570.7L1995.1,570.9L1997.1,571.0L1999.1,571.1L2001.1,571.2L2003.1,571.3L2005.1,571.4L2007.1,571.5L2009.1,571.6L2011.1,571.6L2013.1,571.7L2015.1,571.8L2017.1,571.9L2019.1,572.0L2021.1,572.1L2023.1,572.2L2025.1,572.3L2027.1,572.4L2029.1,572.5L2031.1,572.6L2033.1,572.7L2035.1,572.8L2037.1,572.9L2039.1,573.0L2041.0,573.0L2043.0,573.1L2045.0,573.2L2047.0,573.3L2049.0,573.4L2051.0,573.5L2053.0,573.6L2055.0,573.7L2057.0,573.8L2059.0,574.0L2061.0,574.1L2063.0,574.2L2065.0,574.3L2067.0,574.4L2068.9,574.5L2070.9,574.6L2072.9,574.7L2074.9,574.9L2076.9,575.0L2078.9,575.1L2080.9,575.2L2082.9,575.4L2084.9,575.5L2086.9,575.7L2088.8,575.8L2090.8,575.9L2092.8,576.1L2094.8,576.2L2096.8,576.4L2098.8,576.5L2100.8,576.7L2102.8,576.9L2104.7,577.0L2106.7,577.2L2108.7,577.4L2110.7,577.6L2112.7,577.8L2114.7,577.9L2116.7,578.1L2118.6,578.3L2120.6,578.5L2122.6,578.7L2124.6,579.0L2126.6,579.2L2128.6,579.4L2130.5,579.6L2132.5,579.9L2134.5,580.1L2136.5,580.4L2138.5,580.6L2140.4,580.9L2142.4,581.2L2144.4,581.4L2146.4,581.7L2148.4,582.0L2150.3,582.3L2152.3,582.6L2154.3,583.0L2156.3,583.3L2158.2,583.6L2160.2,584.0L2162.2,584.3L2164.2,584.7L2166.1,585.0L2168.1,585.4L2170.0,585.8"/>
</g>
<g stroke="#000" stroke-width="5.0" fill="none">
<line x1="285.0" y1="1556.1" x2="299.0" y2="1556.1"/>
<line x1="270.0" y1="1438.4" x2="299.0" y2="1438.4"/>
<line x1="285.0" y1="1320.7" x2="299.0" y2="1320.7"/>
<line x1="270.0" y1="1203.0" x2="299.0" y2="1203.0"/>
<line x1="285.0" y1="1085.3" x2="299.0" y2="1085.3"/>
<line x1="270.0" y1="967.6" x2="299.0" y2="967.6"/>
<line x1="285.0" y1="849.9" x2="299.0" y2="849.9"/>
<line x1="270.0" y1="732.2" x2="299.0" y2="732.2"/>
<line x1="285.0" y1="614.5" x2="299.0" y2="614.5"/>
<line x1="270.0" y1="496.8" x2="299.0" y2="496.8"/>
<line x1="285.0" y1="379.1" x2="299.0" y2="379.1"/>
<line x1="270.0" y1="261.4" x2="299.0" y2="261.4"/>
<line x1="285.0" y1="143.7" x2="299.0" y2="143.7"/>
<line x1="2155.0" y1="1440.4" x2="2170.0" y2="1440.4"/>
<line x1="2140.0" y1="1324.5" x2="2170.0" y2="1324.5"/>
<line x1="2155.0" y1="1208.6" x2="2170.0" y2="1208.6"/>
<line x1="2140.0" y1="1092.7" x2="2170.0" y2="1092.7"/>
<line x1="2155.0" y1="976.8" x2="2170.0" y2="976.8"/>
<line x1="2140.0" y1="860.9" x2="2170.0" y2="860.9"/>
<line x1="2155.0" y1="745.0" x2="2170.0" y2="745.0"/>
<line x1="2140.0" y1="629.1" x2="2170.0" y2="629.1"/>
<line x1="2155.0" y1="513.2" x2="2170.0" y2="513.2"/>
<line x1="2140.0" y1="397.3" x2="2170.0" y2="397.3"/>
<line x1="2155.0" y1="281.4" x2="2170.0" y2="281.4"/>
<line x1="2140.0" y1="165.5" x2="2170.0" y2="165.5"/>
<line x1="388.1" y1="1556.3" x2="388.1" y2="1585.3"/>
<line x1="610.8" y1="1556.3" x2="610.8" y2="1570.3"/>
<line x1="833.6" y1="1556.3" x2="833.6" y2="1585.3"/>
<line x1="1056.3" y1="1556.3" x2="1056.3" y2="1570.3"/>
<line x1="1279.0" y1="1556.3" x2="1279.0" y2="1585.3"/>
<line x1="1501.8" y1="1556.3" x2="1501.8" y2="1570.3"/>
<line x1="1724.5" y1="1556.3" x2="1724.5" y2="1585.3"/>
<line x1="1947.3" y1="1556.3" x2="1947.3" y2="1570.3"/>
<line x1="2170.0" y1="1556.3" x2="2170.0" y2="1585.3"/>
</g>
<rect x="299.0" y="50.0" width="1871.0" height="1506.3" fill="none" stroke="#000" stroke-width="5.0" stroke-linejoin="miter"/>
<g font-size="71.0">
<text transform="translate(249.0,1459.1) scale(1,1.040)" text-anchor="end">96</text>
<text transform="translate(249.0,1223.7) scale(1,1.040)" text-anchor="end">98</text>
<text transform="translate(249.0,988.3) scale(1,1.040)" text-anchor="end">100</text>
<text transform="translate(249.0,752.9) scale(1,1.040)" text-anchor="end">102</text>
<text transform="translate(249.0,517.5) scale(1,1.040)" text-anchor="end">104</text>
<text transform="translate(249.0,282.1) scale(1,1.040)" text-anchor="end">106</text>
<text transform="translate(2201.0,1577.0) scale(1,1.040)">84</text>
<text transform="translate(2201.0,1345.2) scale(1,1.040)">86</text>
<text transform="translate(2201.0,1113.4) scale(1,1.040)">88</text>
<text transform="translate(2201.0,881.6) scale(1,1.040)">90</text>
<text transform="translate(2201.0,649.8) scale(1,1.040)">92</text>
<text transform="translate(2201.0,418.0) scale(1,1.040)">94</text>
<text transform="translate(2201.0,186.2) scale(1,1.040)">96</text>
<text transform="translate(388.1,1661.5) scale(1,1.040)" text-anchor="middle">400</text>
<text transform="translate(833.6,1661.5) scale(1,1.040)" text-anchor="middle">500</text>
<text transform="translate(1279.0,1661.5) scale(1,1.040)" text-anchor="middle">600</text>
<text transform="translate(1724.5,1661.5) scale(1,1.040)" text-anchor="middle">700</text>
<text transform="translate(2170.0,1661.5) scale(1,1.040)" text-anchor="middle">800</text>
</g>
<text font-size="85.5" x="1235.5" y="1791.5" text-anchor="middle">Wavelength [nm]</text>
<text font-size="85.5" text-anchor="middle" transform="translate(96.5,801.2) rotate(-90)">Relative reflectance [%]</text>
<text font-size="85.5" text-anchor="middle" transform="translate(2314.3,803.9) rotate(90)">Relative reflectance [%]</text>
<g stroke-width="7.0" stroke-linecap="round">
<line x1="1636.5" y1="114.0" x2="1811.5" y2="114.0" stroke="#ff0000"/>
<line x1="1636.5" y1="202.5" x2="1811.5" y2="202.5" stroke="#000"/>
</g>
<text font-size="77.5" x="1834.0" y="140.5">Glass</text>
<text font-size="77.5" x="1834.0" y="229.0">Si(100)</text>
</svg>
</body></html>
